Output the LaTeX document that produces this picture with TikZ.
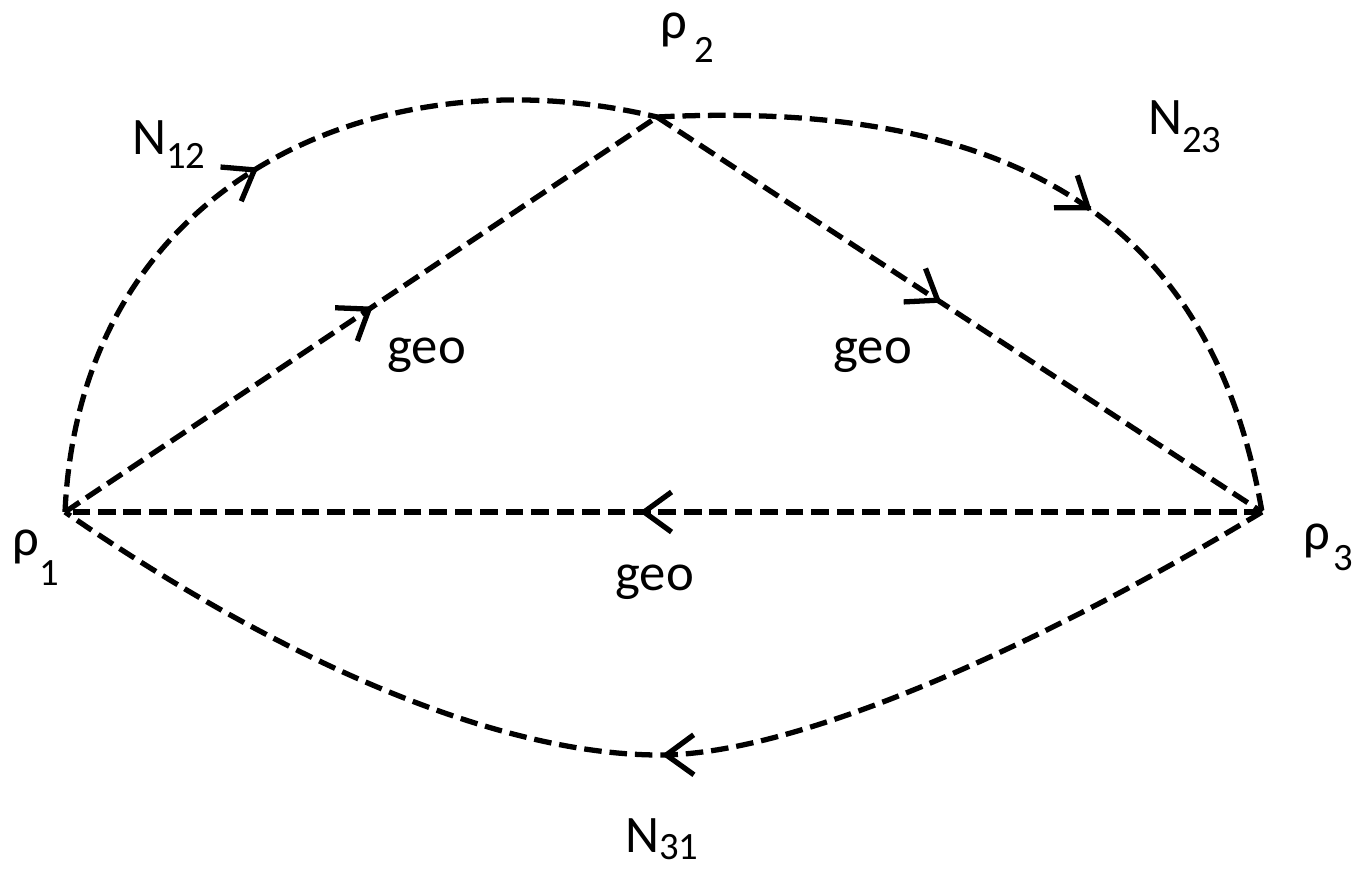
\documentclass[tikz,border=0pt]{standalone}
\usepackage{fontspec}
\setmainfont{Carlito}
\usepackage{tikz}
\usetikzlibrary{arrows.meta,decorations.markings}
\newcommand{\lowsub}[2]{\raisebox{-#1}{\fontsize{22}{22}\selectfont #2}}

\begin{document}
\begin{tikzpicture}[x=0.02cm, y=-0.02cm,
  dashline/.style={line width=3pt, dash pattern=on 10pt off 4.5pt, draw=black},
  midtip/.style={postaction={decorate, decoration={markings,
      mark=at position #1 with {\arrow{Straight Barb[length=5.5mm, width=8mm, line width=3pt]}}}}},
  lbl/.style={inner sep=0pt, anchor=base west, font=\fontsize{30}{36}\selectfont}
]
\useasboundingbox (0,0) rectangle (1361,868);

\coordinate (p1) at (65,512);
\coordinate (p2) at (657,117);
\coordinate (p3) at (1262,512);
\coordinate (b31) at (660,755);

\draw[dashline, midtip=0.52] (p1) -- (p2);
\draw[dashline, midtip=0.47] (p2) -- (p3);
\draw[dashline, midtip=0.52] (p3) -- (p1);

\draw[dashline, midtip=0.5] (p1) .. controls (80,180) and (380,50) .. (p2);
\draw[dashline, midtip=0.56] (p2) .. controls (1000,100) and (1210,210) .. (p3);
\draw[dashline, midtip=0.5] (p3) .. controls (1050,640) and (800,755) .. (b31)
  .. controls (480,755) and (250,640) .. (p1);

\node[lbl] (rho1) at (12,555) {ρ\lowsub{17.6pt}{1}};
\node[lbl] (rho2) at (660,39) {ρ\hspace{4pt}\lowsub{13.6pt}{2}};
\node[lbl] (rho3) at (1303,549) {ρ\hspace{2pt}\lowsub{12pt}{3}};
\node[lbl] (n12) at (132,155) {N\lowsub{7.4pt}{12}};
\node[lbl] (n23) at (1148,135) {N\lowsub{10pt}{23}};
\node[lbl] (n31) at (625,852) {N\lowsub{4.5pt}{31}};
\node[lbl] (geo12) at (387,363) {geo};
\node[lbl] (geo23) at (833,363) {geo};
\node[lbl] (geo31) at (615,590) {geo};
\end{tikzpicture}
\end{document}
